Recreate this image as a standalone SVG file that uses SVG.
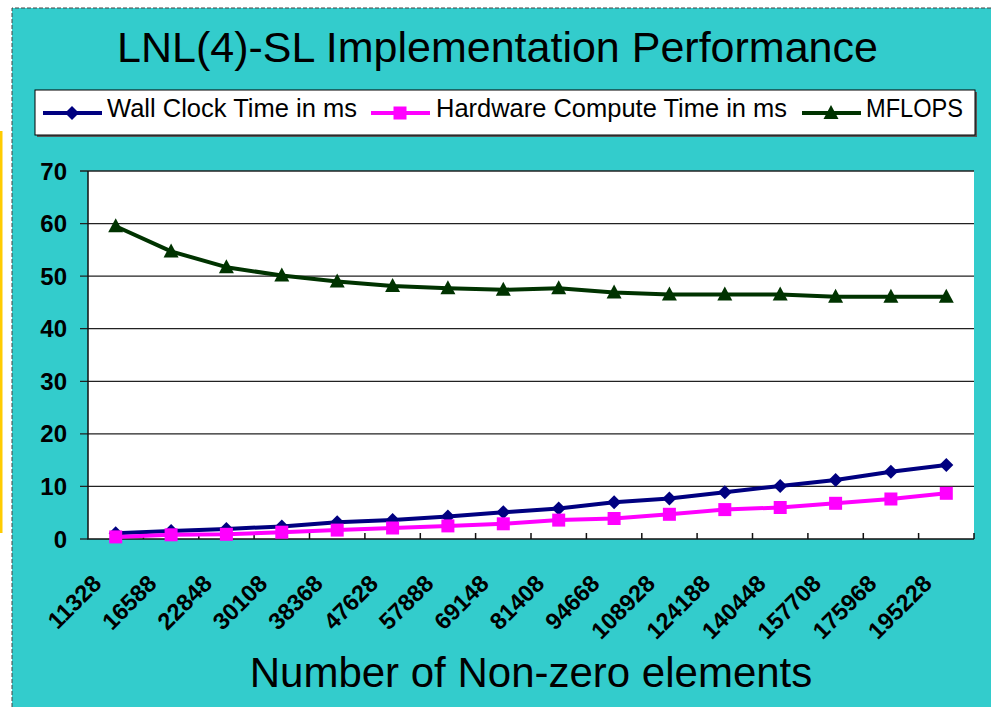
<svg xmlns="http://www.w3.org/2000/svg" width="991" height="707" viewBox="0 0 991 707">
  <style>
    .title { font-family: "Liberation Sans", Arial, sans-serif; font-size: 43px; fill: #000; }
    .axtitle { font-family: "Liberation Sans", Arial, sans-serif; font-size: 42px; fill: #000; }
    .legend { font-family: "Liberation Sans", Arial, sans-serif; font-size: 25px; fill: #000; }
    .ylab { font-family: "Liberation Sans", Arial, sans-serif; font-size: 24px; font-weight: bold; fill: #000; text-anchor: end; }
    .xlab { font-family: "Liberation Sans", Arial, sans-serif; font-size: 23.5px; font-weight: bold; fill: #000; text-anchor: end; }
    .grid { stroke: #222; stroke-width: 1.3; }
    .axis { stroke: #111; stroke-width: 1.5; fill: none; }
    .wall { stroke: #000080; stroke-width: 4; fill: none; stroke-linejoin: round; }
    .hw { stroke: #ff00ff; stroke-width: 4; fill: none; stroke-linejoin: round; }
    .mf { stroke: #003300; stroke-width: 4; fill: none; stroke-linejoin: round; }
  </style>
  <defs>
    <path id="diamond" d="M0,-7 L7,0 L0,7 L-7,0 Z" fill="#000080"/>
    <rect id="square" x="-6.5" y="-6.5" width="13" height="13" fill="#ff00ff"/>
    <path id="triangle" d="M0,-8 L7.5,6 L-7.5,6 Z" fill="#003300"/>
  </defs>

  <!-- page background -->
  <rect x="0" y="0" width="991" height="707" fill="#ffffff"/>
  <rect x="0" y="131" width="2.5" height="402" fill="#ffcc00"/>

  <!-- chart panel -->
  <rect x="12" y="8" width="985" height="705" fill="#33cccc"/>
  <path d="M12,707 L12,8 L991,8" fill="none" stroke="#444" stroke-width="1" stroke-dasharray="4,2"/>

  <g id="title">
    <text class="title" x="497.5" y="62" text-anchor="middle">LNL(4)-SL Implementation Performance</text>
  </g>

  <g id="legend">
    <rect x="37" y="92" width="940" height="45" fill="#555"/>
    <rect x="35" y="90" width="940" height="45" fill="#ffffff" stroke="#000" stroke-width="1"/>
    <line x1="43" y1="113" x2="102" y2="113" class="wall"/>
    <use href="#diamond" x="72" y="113"/>
    <text class="legend" x="107" y="117" textLength="250" lengthAdjust="spacingAndGlyphs">Wall Clock Time in ms</text>
    <line x1="371" y1="113" x2="430" y2="113" class="hw"/>
    <use href="#square" x="400" y="113"/>
    <text class="legend" x="436" y="117" textLength="351" lengthAdjust="spacingAndGlyphs">Hardware Compute Time in ms</text>
    <line x1="802" y1="113" x2="861" y2="113" class="mf"/>
    <use href="#triangle" x="831" y="113"/>
    <text class="legend" x="866" y="117" textLength="97" lengthAdjust="spacingAndGlyphs">MFLOPS</text>
  </g>

  <g id="plot-area">
    <rect x="88" y="171" width="886" height="368" fill="#ffffff"/>
    <g id="gridlines">
      <line class="grid" x1="80" y1="171" x2="974" y2="171"/>
      <line class="grid" x1="80" y1="223.6" x2="974" y2="223.6"/>
      <line class="grid" x1="80" y1="276.1" x2="974" y2="276.1"/>
      <line class="grid" x1="80" y1="328.7" x2="974" y2="328.7"/>
      <line class="grid" x1="80" y1="381.3" x2="974" y2="381.3"/>
      <line class="grid" x1="80" y1="433.9" x2="974" y2="433.9"/>
      <line class="grid" x1="80" y1="486.4" x2="974" y2="486.4"/>
      <line class="grid" x1="80" y1="539" x2="88" y2="539"/>
    </g>
    <g id="axes">
      <path class="axis" d="M88,171 L88,539 L974,539"/>
      <path class="axis" stroke-width="1.3" d="M143.4,533 V539 M198.8,533 V539 M254.1,533 V539 M309.5,533 V539 M364.9,533 V539 M420.3,533 V539 M475.6,533 V539 M531,533 V539 M586.4,533 V539 M641.8,533 V539 M697.1,533 V539 M752.5,533 V539 M807.9,533 V539 M863.3,533 V539 M918.6,533 V539 M974,533 V539"/>
    </g>
  </g>

  <g id="y-labels">
    <text class="ylab" x="67" y="179.5">70</text>
    <text class="ylab" x="67" y="232.1">60</text>
    <text class="ylab" x="67" y="284.6">50</text>
    <text class="ylab" x="67" y="337.2">40</text>
    <text class="ylab" x="67" y="389.8">30</text>
    <text class="ylab" x="67" y="442.4">20</text>
    <text class="ylab" x="67" y="494.9">10</text>
    <text class="ylab" x="67" y="547.5">0</text>
  </g>

  <g id="x-labels">
    <text class="xlab" transform="translate(102.7,585) rotate(-45)">11328</text>
    <text class="xlab" transform="translate(158.1,585) rotate(-45)">16588</text>
    <text class="xlab" transform="translate(213.4,585) rotate(-45)">22848</text>
    <text class="xlab" transform="translate(268.8,585) rotate(-45)">30108</text>
    <text class="xlab" transform="translate(324.2,585) rotate(-45)">38368</text>
    <text class="xlab" transform="translate(379.6,585) rotate(-45)">47628</text>
    <text class="xlab" transform="translate(434.9,585) rotate(-45)">57888</text>
    <text class="xlab" transform="translate(490.3,585) rotate(-45)">69148</text>
    <text class="xlab" transform="translate(545.7,585) rotate(-45)">81408</text>
    <text class="xlab" transform="translate(601.1,585) rotate(-45)">94668</text>
    <text class="xlab" transform="translate(656.4,585) rotate(-45)">108928</text>
    <text class="xlab" transform="translate(711.8,585) rotate(-45)">124188</text>
    <text class="xlab" transform="translate(767.2,585) rotate(-45)">140448</text>
    <text class="xlab" transform="translate(822.6,585) rotate(-45)">157708</text>
    <text class="xlab" transform="translate(877.9,585) rotate(-45)">175968</text>
    <text class="xlab" transform="translate(933.3,585) rotate(-45)">195228</text>
  </g>

  <g id="x-title">
    <text class="axtitle" x="531" y="687" text-anchor="middle">Number of Non-zero elements</text>
  </g>

  <g id="series">
    <g id="series-mflops">
      <polyline class="mf" points="115.7,226.2 171.1,251.4 226.4,267.2 281.8,275.6 337.2,281.4 392.6,286.1 447.9,288.2 503.3,289.8 558.7,288.2 614.1,292.4 669.4,294.5 724.8,294.5 780.2,294.5 835.6,296.7 890.9,296.7 946.3,296.7"/>
      <use href="#triangle" x="115.7" y="226.2"/>
      <use href="#triangle" x="171.1" y="251.4"/>
      <use href="#triangle" x="226.4" y="267.2"/>
      <use href="#triangle" x="281.8" y="275.6"/>
      <use href="#triangle" x="337.2" y="281.4"/>
      <use href="#triangle" x="392.6" y="286.1"/>
      <use href="#triangle" x="447.9" y="288.2"/>
      <use href="#triangle" x="503.3" y="289.8"/>
      <use href="#triangle" x="558.7" y="288.2"/>
      <use href="#triangle" x="614.1" y="292.4"/>
      <use href="#triangle" x="669.4" y="294.5"/>
      <use href="#triangle" x="724.8" y="294.5"/>
      <use href="#triangle" x="780.2" y="294.5"/>
      <use href="#triangle" x="835.6" y="296.7"/>
      <use href="#triangle" x="890.9" y="296.7"/>
      <use href="#triangle" x="946.3" y="296.7"/>
    </g>
    <g id="series-wall">
      <polyline class="wall" points="115.7,533.2 171.1,531.1 226.4,529 281.8,526.4 337.2,522.2 392.6,520.1 447.9,516.4 503.3,512.2 558.7,508.5 614.1,502.2 669.4,498.5 724.8,492.2 780.2,485.9 835.6,480.1 890.9,471.7 946.3,464.9"/>
      <use href="#diamond" x="115.7" y="533.2"/>
      <use href="#diamond" x="171.1" y="531.1"/>
      <use href="#diamond" x="226.4" y="529"/>
      <use href="#diamond" x="281.8" y="526.4"/>
      <use href="#diamond" x="337.2" y="522.2"/>
      <use href="#diamond" x="392.6" y="520.1"/>
      <use href="#diamond" x="447.9" y="516.4"/>
      <use href="#diamond" x="503.3" y="512.2"/>
      <use href="#diamond" x="558.7" y="508.5"/>
      <use href="#diamond" x="614.1" y="502.2"/>
      <use href="#diamond" x="669.4" y="498.5"/>
      <use href="#diamond" x="724.8" y="492.2"/>
      <use href="#diamond" x="780.2" y="485.9"/>
      <use href="#diamond" x="835.6" y="480.1"/>
      <use href="#diamond" x="890.9" y="471.7"/>
      <use href="#diamond" x="946.3" y="464.9"/>
    </g>
    <g id="series-hardware">
      <polyline class="hw" points="115.7,536.9 171.1,534.8 226.4,534.3 281.8,532.2 337.2,530.1 392.6,528 447.9,525.9 503.3,523.8 558.7,520.1 614.1,518.5 669.4,514.3 724.8,509.6 780.2,507.5 835.6,503.3 890.9,499 946.3,493.3"/>
      <use href="#square" x="115.7" y="536.9"/>
      <use href="#square" x="171.1" y="534.8"/>
      <use href="#square" x="226.4" y="534.3"/>
      <use href="#square" x="281.8" y="532.2"/>
      <use href="#square" x="337.2" y="530.1"/>
      <use href="#square" x="392.6" y="528"/>
      <use href="#square" x="447.9" y="525.9"/>
      <use href="#square" x="503.3" y="523.8"/>
      <use href="#square" x="558.7" y="520.1"/>
      <use href="#square" x="614.1" y="518.5"/>
      <use href="#square" x="669.4" y="514.3"/>
      <use href="#square" x="724.8" y="509.6"/>
      <use href="#square" x="780.2" y="507.5"/>
      <use href="#square" x="835.6" y="503.3"/>
      <use href="#square" x="890.9" y="499"/>
      <use href="#square" x="946.3" y="493.3"/>
    </g>
  </g>
</svg>
